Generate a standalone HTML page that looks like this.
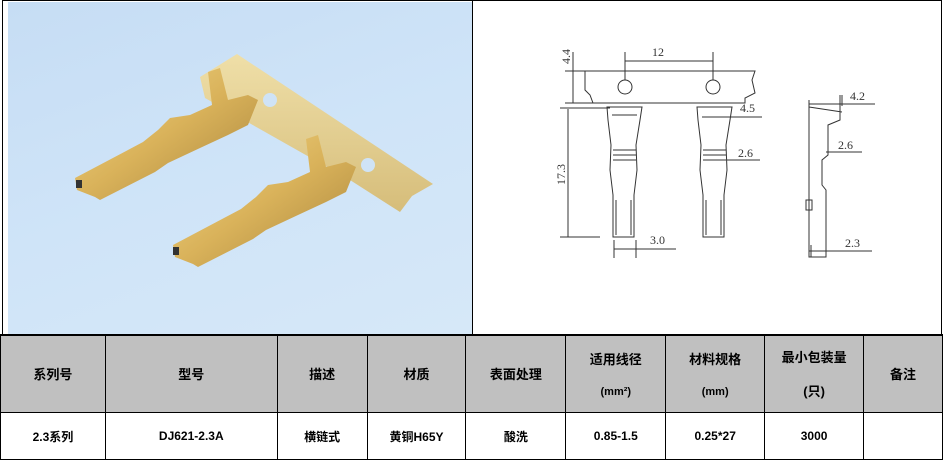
<!DOCTYPE html>
<html><head><meta charset="utf-8"><style>
body{margin:0;width:943px;height:462px;background:#fff;overflow:hidden;position:relative;font-family:"Liberation Sans","Noto Sans CJK SC",sans-serif}
.photo{position:absolute;left:8px;top:2px;width:464px;height:332px;background:linear-gradient(160deg,#c6ddf4 0%,#cfe4f8 50%,#d6e8f8 100%)}
table{position:absolute;left:0;top:334px;border-collapse:collapse;width:943px}
td{border:1px solid #000;text-align:center;font-weight:bold;font-size:13px;padding:0}
tr.h td{background:#c0c0c0;height:77px}
tr.d td{height:46px;font-size:12px}
</style></head><body>
<div style="position:absolute;left:2px;top:0;width:940px;height:1px;background:#000"></div>
<div style="position:absolute;left:2px;top:0;width:1px;height:335px;background:#000"></div>
<div style="position:absolute;left:941px;top:0;width:1px;height:335px;background:#000"></div>
<div style="position:absolute;left:472px;top:0;width:1px;height:335px;background:#000"></div>
<div class="photo">
<svg width="464" height="332" viewBox="8 2 464 332">
<defs><linearGradient id="g" x1="0" y1="0" x2="1" y2="1"><stop offset="0" stop-color="#f4d98a"/><stop offset=".5" stop-color="#d9b25a"/><stop offset="1" stop-color="#a8843c"/></linearGradient>
<linearGradient id="s" x1="0" y1="0" x2="0" y2="1"><stop offset="0" stop-color="#efdfa8"/><stop offset="1" stop-color="#d6bd7a"/></linearGradient></defs>
<polygon points="200,77 237,54 433,184 412,196 400,212 350,180 205,98" fill="url(#s)"/>
<circle cx="270" cy="100" r="7" fill="#cfe3f6"/><circle cx="368" cy="165" r="7" fill="#cfe3f6"/>
<g fill="url(#g)">
<polygon points="75,178 143,142 158,130 170,118 190,115 212,105 208,72 220,68 228,100 248,95 258,100 248,125 228,135 200,148 168,163 155,172 100,200 95,197 77,190"/>
<polygon points="173,245 241,209 256,197 268,185 288,182 310,172 306,139 318,135 326,167 346,162 356,167 346,192 326,202 298,215 266,230 253,239 198,267 193,264 175,257"/>
</g>
<rect x="76" y="180" width="6" height="8" fill="#333"/><rect x="173" y="247" width="6" height="8" fill="#333"/>
</svg></div>
<svg style="position:absolute;left:473px;top:1px" width="468" height="333" viewBox="473 1 468 333" fill="none" stroke="#333" stroke-width="1" font-family="Liberation Serif,serif" font-size="12">
<path d="M585,71 H755 L752,80 L755,93 L745,98 L745,103 H593 L590,95 L585,90 Z"/>
<circle cx="625" cy="87" r="7"/><circle cx="713" cy="87" r="7"/>
<path d="M625,52V80 M713,52V80 M625,61H713"/>
<path d="M573,52V103 M565,71H585 M565,103H600"/>
<path d="M568,109V237 M560,108H610 M560,237H600"/>
<g>
<path d="M607,107H642 L640,120 L636,145 L637,170 L634,195 V237 H613 V195 L610,170 L611,145 L608,120 Z"/>
<path d="M612,115H637 M613,150H636 M613,155H636 M613,160H636 M616,200V235 M631,200V235"/>
<path d="M697,107H732 L730,120 L726,145 L727,170 L724,195 V237 H703 V195 L700,170 L701,145 L698,120 Z"/>
<path d="M702,117H727 M703,150H726 M703,155H726 M703,160H726 M706,200V235 M721,200V235"/>
</g>
<path d="M614,240V258 M636,240V258 M614,249H676"/>
<path d="M727,117H762 M727,160H760"/>
<path d="M809,100V257 H826 V190 L822,185 V160 L828,155 V125 L840,120 V95 M809,107L842,112"/>
<path d="M842,95V106 M809,104H875 M826,152H862 M811,245V257 M826,245V257 M809,251H872 M806,200H812 V210 H806Z"/>
<g fill="#333" stroke="none">
<text x="652" y="56">12</text><text x="740" y="112">4.5</text><text x="738" y="157">2.6</text>
<text x="650" y="244">3.0</text><text x="850" y="100">4.2</text><text x="838" y="149">2.6</text><text x="845" y="247">2.3</text>
<text transform="translate(570,64) rotate(-90)">4.4</text>
<text transform="translate(565,185) rotate(-90)">17.3</text>
</g>
</svg>
<table>
<colgroup><col style="width:105px"><col style="width:172px"><col style="width:90px"><col style="width:99px"><col style="width:100px"><col style="width:100px"><col style="width:99px"><col style="width:99px"><col style="width:79px"></colgroup>
<tr class="h"><td>系列号</td><td>型号</td><td>描述</td><td>材质</td><td>表面处理</td><td>适用线径<br><br><span style="font-size:11px">(mm²)</span></td><td>材料规格<br><br><span style="font-size:11px">(mm)</span></td><td>最小包装量<br><br>(只)</td><td>备注</td></tr>
<tr class="d"><td>2.3系列</td><td>DJ621-2.3A</td><td>横链式</td><td>黄铜H65Y</td><td>酸洗</td><td>0.85-1.5</td><td>0.25*27</td><td>3000</td><td></td></tr>
</table>
<div style="position:absolute;left:0;top:334px;width:943px;height:2px;background:#000"></div>
</body></html>
